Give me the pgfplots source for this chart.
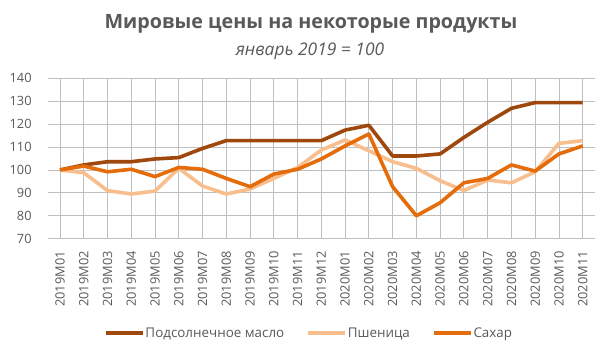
\documentclass[border=0pt]{standalone}
\usepackage{pgfplots}
\pgfplotsset{compat=1.18}
\usepackage{fontspec}
\setmainfont{Open Sans}
\definecolor{oil}{RGB}{158,72,14}
\definecolor{wheat}{RGB}{248,190,142}
\definecolor{sugar}{RGB}{228,108,10}
\definecolor{txt}{RGB}{89,89,89}
\definecolor{grid}{RGB}{217,217,217}
\begin{document}
\begin{tikzpicture}[x=1pt,y=1pt]
\path[use as bounding box] (0,0) rectangle (611,-356);
\node[anchor=base,text=txt,inner sep=0pt,font=\fontsize{19.7}{24}\selectfont\bfseries] at (311,-28.3) {Мировые цены на некоторые продукты};
\node[anchor=base,text=txt,inner sep=0pt,font=\fontsize{17.4}{20}\selectfont\itshape] at (310,-55) {январь 2019 = 100};
\begin{axis}[
  at={(48.1pt,-238.7pt)}, anchor=south west,
  scale only axis, width=546.5pt, height=160.4pt,
  xmin=-0.5, xmax=22.5, ymin=70, ymax=140,
  ytick={70,80,...,140},
  xtick={0,...,22},
  xticklabels={2019M01,2019M02,2019M03,2019M04,2019M05,2019M06,2019M07,2019M08,2019M09,2019M10,2019M11,2019M12,2020M01,2020M02,2020M03,2020M04,2020M05,2020M06,2020M07,2020M08,2020M09,2020M10,2020M11},
  axis line style={draw=none},
  ymajorgrids, major grid style={grid, line width=0.9pt},
  major tick length=0pt,
  /pgf/number format/assume math mode=true,
  tick label style={text=txt, font=\fontsize{12.8}{14}\selectfont},
  xticklabel style={rotate=90, anchor=east},
  xticklabel shift=9pt,
  yticklabel style={anchor=east},
  yticklabel shift=13pt,
  clip=false,
  legend columns=3,
  legend style={draw=none, fill=none, at={(0.4765,-0.588)}, anchor=center, font=\fontsize{13.4}{15}\selectfont, text=txt, /tikz/every even column/.append style={column sep=21pt}, inner sep=0pt, nodes={inner sep=1pt}},
  legend image code/.code={\draw[#1] (0pt,0pt) -- (37pt,0pt);},
  every axis plot/.append style={line width=3.6pt, line join=round},
]
\addplot[oil] coordinates {(0,100)(1,102.2)(2,103.6)(3,103.6)(4,104.8)(5,105.4)(6,109.4)(7,112.8)(8,112.8)(9,112.8)(10,112.8)(11,112.8)(12,117.4)(13,119.5)(14,106.1)(15,106.1)(16,107)(17,114.2)(18,120.8)(19,126.9)(20,129.4)(21,129.4)(22,129.4)};
\addplot[wheat] coordinates {(0,100)(1,98.8)(2,91)(3,89.5)(4,90.8)(5,100.7)(6,93)(7,89.5)(8,91.7)(9,96.3)(10,101.1)(11,108.7)(12,113.1)(13,108.4)(14,103.6)(15,100.7)(16,95.3)(17,91)(18,95.6)(19,94.4)(20,99.2)(21,111.6)(22,112.8)};
\addplot[sugar] coordinates {(0,100)(1,101.7)(2,99.2)(3,100.3)(4,97.1)(5,101.1)(6,100.3)(7,96.3)(8,92.7)(9,98.2)(10,100.3)(11,104.8)(12,110.5)(13,115.7)(14,92.7)(15,80)(16,85.7)(17,94.4)(18,96.3)(19,102.2)(20,99.5)(21,107)(22,110.5)};
\legend{Подсолнечное масло, Пшеница, Сахар}
\end{axis}
\end{tikzpicture}
\end{document}
